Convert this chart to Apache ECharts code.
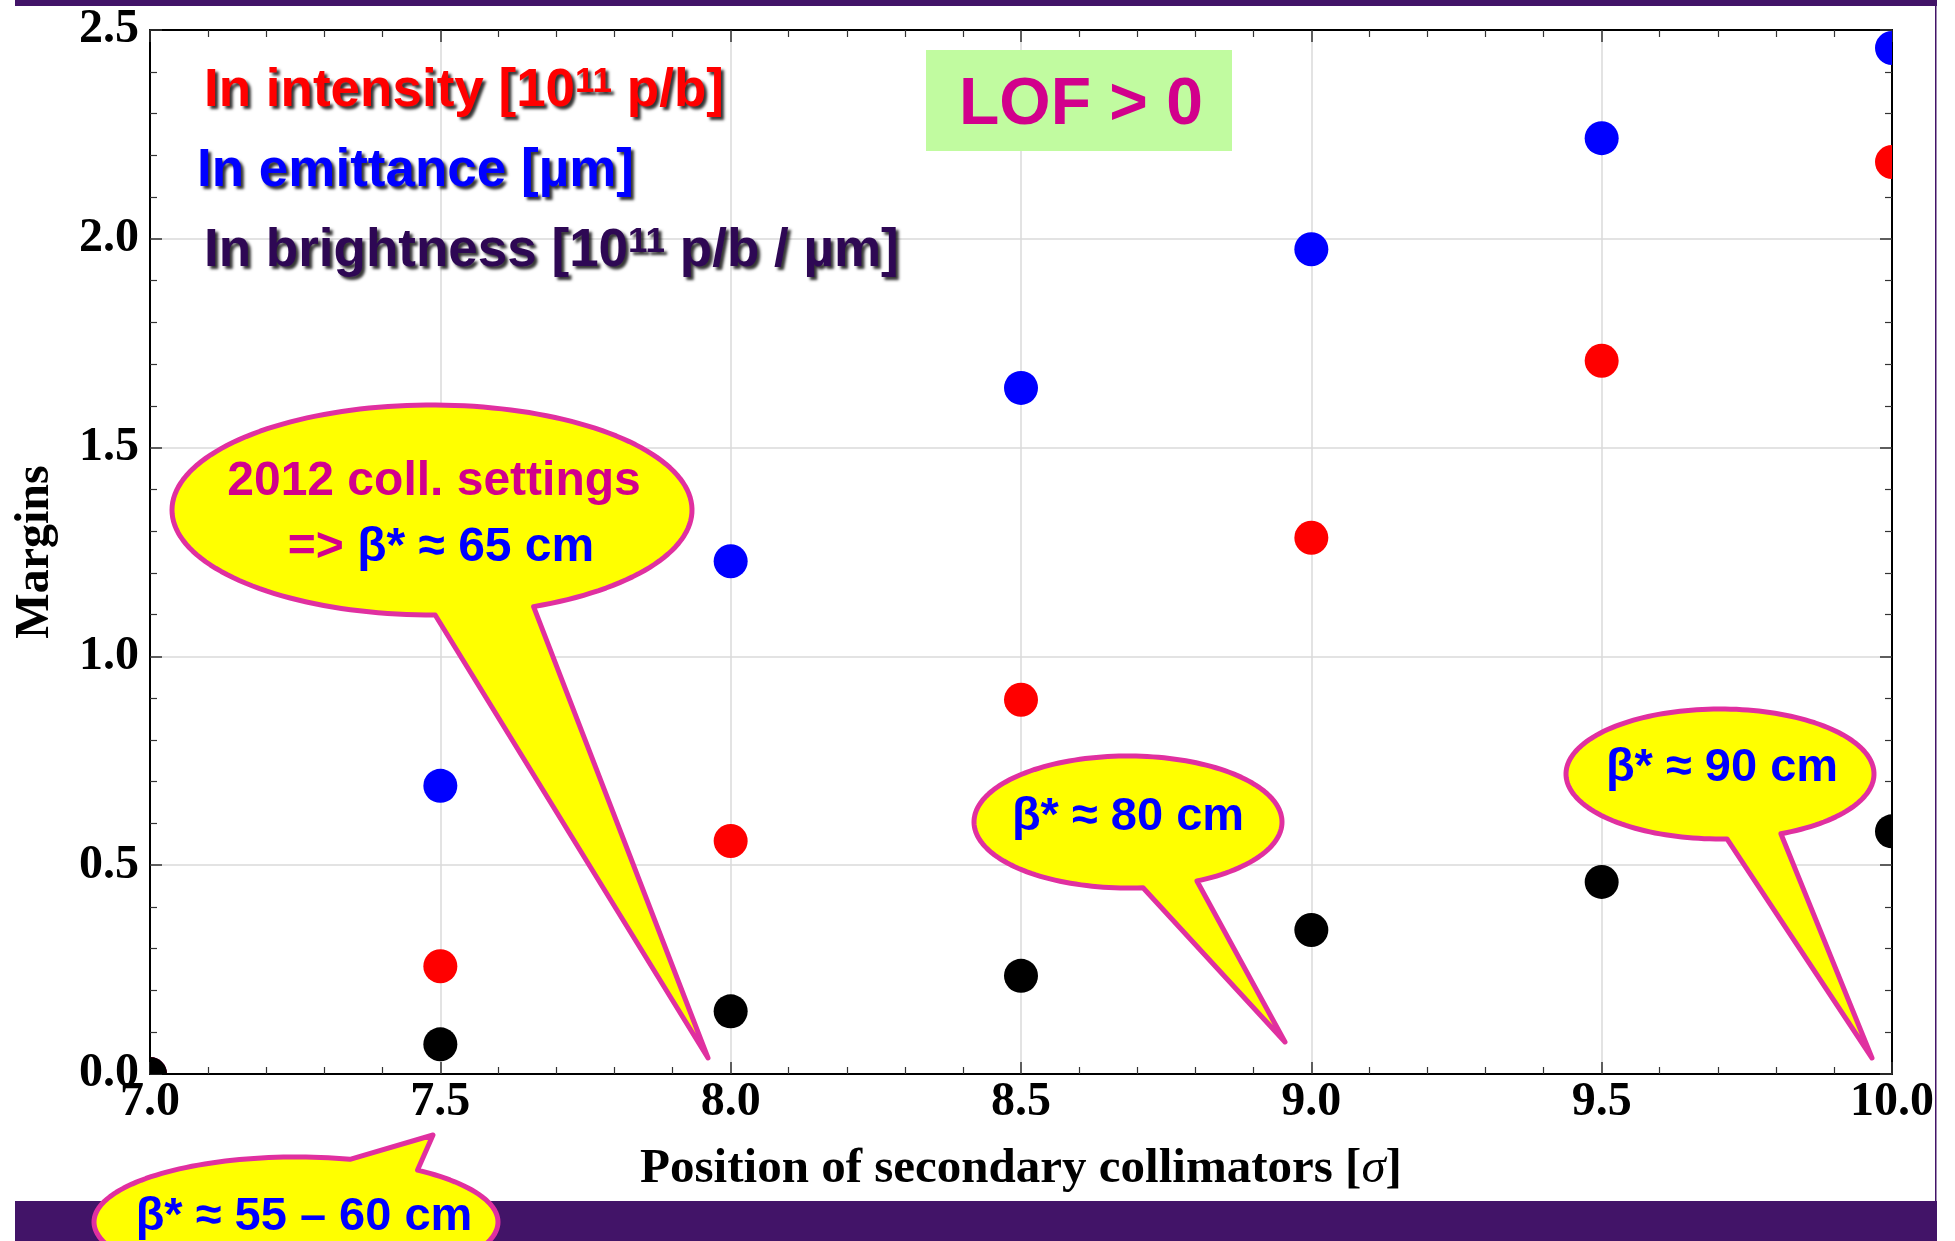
<!DOCTYPE html>
<html><head><meta charset="utf-8">
<script src="https://cdn.jsdelivr.net/npm/echarts@6/dist/echarts.min.js"></script>
<style>html,body{margin:0;padding:0;background:#fff;overflow:hidden}#c{width:1955px;height:1241px}</style>
</head><body><div id="c"></div>
<script>
// ---- data ----
const positions  = [7.0, 7.5, 8.0, 8.5, 9.0, 9.5, 10.0];
const intensity  = [0, 0.258, 0.558, 0.896, 1.284, 1.708, 2.184];
const emittance  = [0, 0.690, 1.228, 1.643, 1.975, 2.241, 2.457];
const brightness = [0, 0.071, 0.150, 0.235, 0.345, 0.460, 0.581];
const xTickLabels = ['7.0', '7.5', '8.0', '8.5', '9.0', '9.5', '10.0'];
const yTickLabels = ['0.0', '0.5', '1.0', '1.5', '2.0', '2.5'];

const SERIF = '"Liberation Serif", "Times New Roman", serif';
const SANS = '"Liberation Sans", Arial, sans-serif';
const PURPLE = '#421468';
const MAGENTA = '#d2008c';
const BORDER = '#e030a0';
const BLUE = '#0000ff';

function dotSeries(name, vals, color) {
  return {
    type: 'custom', name, clip: true, z: 3,
    data: positions.map((x, i) => [x, vals[i]]),
    encode: { x: 0, y: 1 },
    renderItem: (params, api) => {
      const p = api.coord([api.value(0), api.value(1)]);
      return { type: 'circle', shape: { cx: p[0], cy: p[1], r: 17 }, style: { fill: color } };
    }
  };
}

function balloon(cx, cy, rx, ry, aA, aB, tip) {
  const lo = Math.min(aA, aB) * Math.PI / 180, hi = Math.max(aA, aB) * Math.PI / 180;
  const pts = [];
  const N = 160;
  const end = lo + 2 * Math.PI;
  for (let k = 0; k <= N; k++) {
    const t = hi + (end - hi) * k / N;
    pts.push([cx + rx * Math.cos(t), cy + ry * Math.sin(t)]);
  }
  pts.push(tip);
  return { type: 'polygon', z: 100, shape: { points: pts },
    style: { fill: '#ffff00', stroke: BORDER, lineWidth: 5, lineJoin: 'round' } };
}

function label(x, y, text, color, size, rich) {
  return { type: 'text', z: 101, x, y,
    style: { text, fill: color, font: 'bold ' + size + 'px ' + SANS, align: 'center', verticalAlign: 'middle', rich: rich || {} } };
}

const shadow = { textShadowColor: 'rgba(0,0,0,0.8)', textShadowBlur: 3, textShadowOffsetX: 3, textShadowOffsetY: 3 };
function legendLine(x, y, text, color) {
  return { type: 'text', z: 101, x, y,
    style: Object.assign({ text, fill: color, font: 'bold 53px ' + SANS, align: 'left', verticalAlign: 'middle',
      rich: { s: Object.assign({ fill: color, fontSize: 35, fontWeight: 'bold', fontFamily: SANS, verticalAlign: 'top' }, shadow) } }, shadow) };
}

const chart = echarts.init(document.getElementById('c'), null, { renderer: 'canvas' });

const axisCommon = {
  axisLine: { show: true, onZero: false, lineStyle: { color: '#000', width: 2 } },
  axisTick: { show: true, inside: true, length: 12, lineStyle: { color: '#333', width: 1.5 } },
  minorTick: { show: true, splitNumber: 5, length: 7, lineStyle: { color: '#333', width: 1.2 } },
};

chart.setOption({
  animation: false,
  backgroundColor: '#fff',
  grid: { left: 150, top: 30, width: 1742, height: 1044, containLabel: false, outerBoundsMode: 'none' },
  xAxis: [
    Object.assign({}, axisCommon, {
      type: 'value', position: 'bottom', min: 7, max: 10, interval: 0.5,
      axisLabel: { margin: 5, color: '#000', fontFamily: SERIF, fontWeight: 'bold', fontSize: 48,
        formatter: (v, i) => xTickLabels[i] },
      splitLine: { show: true, lineStyle: { color: '#dadada', width: 1.5 } },
      name: '{b|Position of secondary collimators [}{i|σ}{b|]}',
      nameLocation: 'middle', nameGap: 71,
      nameTextStyle: { rich: {
        b: { fontFamily: SERIF, fontWeight: 'bold', fontSize: 49, color: '#000' },
        i: { fontFamily: SERIF, fontStyle: 'italic', fontWeight: 'normal', fontSize: 49, color: '#000' } } }
    }),
    Object.assign({}, axisCommon, {
      type: 'value', position: 'top', min: 7, max: 10, interval: 0.5,
      axisLabel: { show: false }, splitLine: { show: false }
    })
  ],
  yAxis: [
    Object.assign({}, axisCommon, {
      type: 'value', position: 'left', min: 0, max: 2.5, interval: 0.5,
      axisLabel: { margin: 11, color: '#000', fontFamily: SERIF, fontWeight: 'bold', fontSize: 48,
        formatter: (v, i) => yTickLabels[i] },
      splitLine: { show: true, lineStyle: { color: '#dadada', width: 1.5 } },
      name: 'Margins', nameLocation: 'middle', nameGap: 90,
      nameTextStyle: { fontFamily: SERIF, fontWeight: 'bold', fontSize: 48, color: '#000' }
    }),
    Object.assign({}, axisCommon, {
      type: 'value', position: 'right', min: 0, max: 2.5, interval: 0.5,
      axisLabel: { show: false }, splitLine: { show: false }
    })
  ],
  series: [
    dotSeries('In emittance', emittance, '#0000ff'),
    dotSeries('In intensity', intensity, '#ff0000'),
    dotSeries('In brightness', brightness, '#000000')
  ],
  graphic: [
    // frame bars
    { type: 'rect', z: 50, shape: { x: 15, y: 0, width: 1922, height: 6 }, style: { fill: PURPLE } },
    { type: 'rect', z: 50, shape: { x: 1935, y: 0, width: 1.5, height: 1202 }, style: { fill: PURPLE } },
    { type: 'rect', z: 50, shape: { x: 15, y: 1201, width: 1922, height: 40 }, style: { fill: PURPLE } },
    // legend-like labels
    legendLine(204, 91, 'In intensity [10{s|11} p/b]', '#ff0000'),
    legendLine(197, 171, 'In emittance [µm]', '#0000ff'),
    legendLine(204, 251, 'In brightness [10{s|11} p/b / µm]', '#2e0854'),
    // LOF box
    { type: 'rect', z: 60, shape: { x: 926, y: 50, width: 306, height: 101 }, style: { fill: '#c1fba0' } },
    label(1081, 106, 'LOF > 0', MAGENTA, 66),
    // callouts
    balloon(432, 510, 260, 105, 89.3, 67, [708, 1058]),
    label(434, 482, '2012 coll. settings', MAGENTA, 48),
    label(441, 548, '{m|=> }β* ≈ 65 cm', BLUE, 48, { m: { fill: MAGENTA, fontSize: 48, fontWeight: 'bold', fontFamily: SANS } }),
    balloon(1128, 822, 154, 66, 84.4, 63.4, [1285, 1042]),
    label(1128, 817, 'β* ≈ 80 cm', BLUE, 47),
    balloon(1720, 774, 154, 65, 87.4, 66.7, [1872, 1058]),
    label(1722, 768, 'β* ≈ 90 cm', BLUE, 47),
    balloon(296, 1222, 202, 65, -74.5, -53, [433, 1135]),
    label(304, 1217, 'β* ≈ 55 – 60 cm', BLUE, 47)
  ]
});
</script>
</body></html>
